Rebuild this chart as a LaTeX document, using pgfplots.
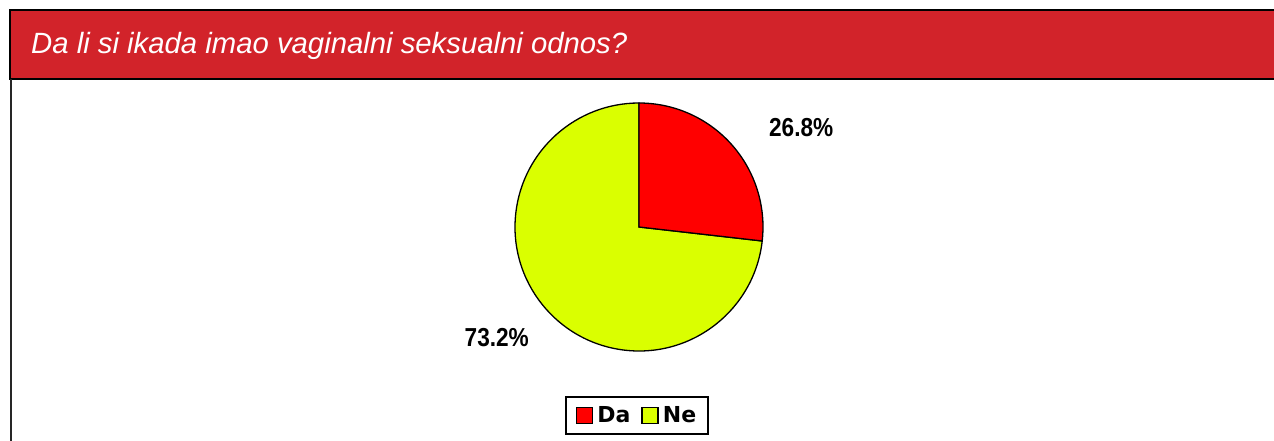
\documentclass[border=0pt]{standalone}
\usepackage{fontspec}
\setmainfont{Liberation Sans}
\newfontfamily\djb{DejaVu Sans}
\usepackage{graphicx}
\usepackage{pgfplots}
\usepackage{pgfplotstable}
\pgfplotsset{compat=1.18}

\pgfplotstableread{
label value
Da 26.8
Ne 73.2
}\piedata

\definecolor{titlered}{RGB}{210,35,42}
\definecolor{neyellow}{RGB}{218,255,0}

\begin{document}
\begin{tikzpicture}[x=1pt,y=1pt]
\useasboundingbox (0,0) rectangle (1274,441);
\fill[titlered] (10,362) rectangle (1290,431);
\draw[black, line width=1.5pt] (1290,431) -- (10,431) -- (10,362) -- (1290,362);
\draw[line width=2pt, black!85] (11,362) -- (11,-5);
\node[anchor=base west, inner sep=0, text=white, font=\fontsize{29.3}{35}\selectfont\itshape] at (31,387.7) {Da li si ikada imao vaginalni seksualni odnos?};

\pgfplotstablegetelem{0}{value}\of\piedata \let\vDa\pgfplotsretval
\pgfplotstablegetelem{1}{value}\of\piedata \let\vNe\pgfplotsretval
\pgfmathsetmacro\aDa{90-3.6*\vDa}
\pgfmathsetmacro\aNe{\aDa-3.6*\vNe}

\begin{axis}[at={(639pt,214pt)}, anchor=center, width=248pt, height=248pt, scale only axis,
  hide axis, xmin=-1, xmax=1, ymin=-1, ymax=1, clip=false,
  legend style={at={(0.492,-0.26)}, anchor=center, draw=black, line width=1.8pt,
    font=\djb\bfseries\fontsize{22}{26}\selectfont, legend columns=-1,
    /tikz/every odd column/.append style={column sep=2pt},
    /tikz/every even column/.append style={column sep=9pt}, inner xsep=10pt, inner ysep=8pt},
  legend image code/.code={\draw[#1, line width=1.5pt] (0pt,-8pt) rectangle (16pt,8pt);}
]
\addlegendimage{fill=red, draw=black}\addlegendentry{Da}
\addlegendimage{fill=neyellow, draw=black}\addlegendentry{Ne}
\draw[fill=neyellow, line width=1.3pt] (axis cs:0,0) -- (axis cs:{cos(\aDa)},{sin(\aDa)}) arc[start angle=\aDa, end angle=\aNe, radius=1] -- cycle;
\draw[fill=red, line width=1.3pt] (axis cs:0,0) -- (axis cs:0,1) arc[start angle=90, end angle=\aDa, radius=1] -- cycle;
\node[anchor=base west, inner sep=0, font=\bfseries\fontsize{26}{30}\selectfont] at (axis cs:1.048,0.726) {\scalebox{0.87}[1]{\vDa\%}};
\node[anchor=base east, inner sep=0, font=\bfseries\fontsize{26}{30}\selectfont] at (axis cs:-0.887,-0.960) {\scalebox{0.87}[1]{\vNe\%}};
\end{axis}
\end{tikzpicture}
\end{document}
